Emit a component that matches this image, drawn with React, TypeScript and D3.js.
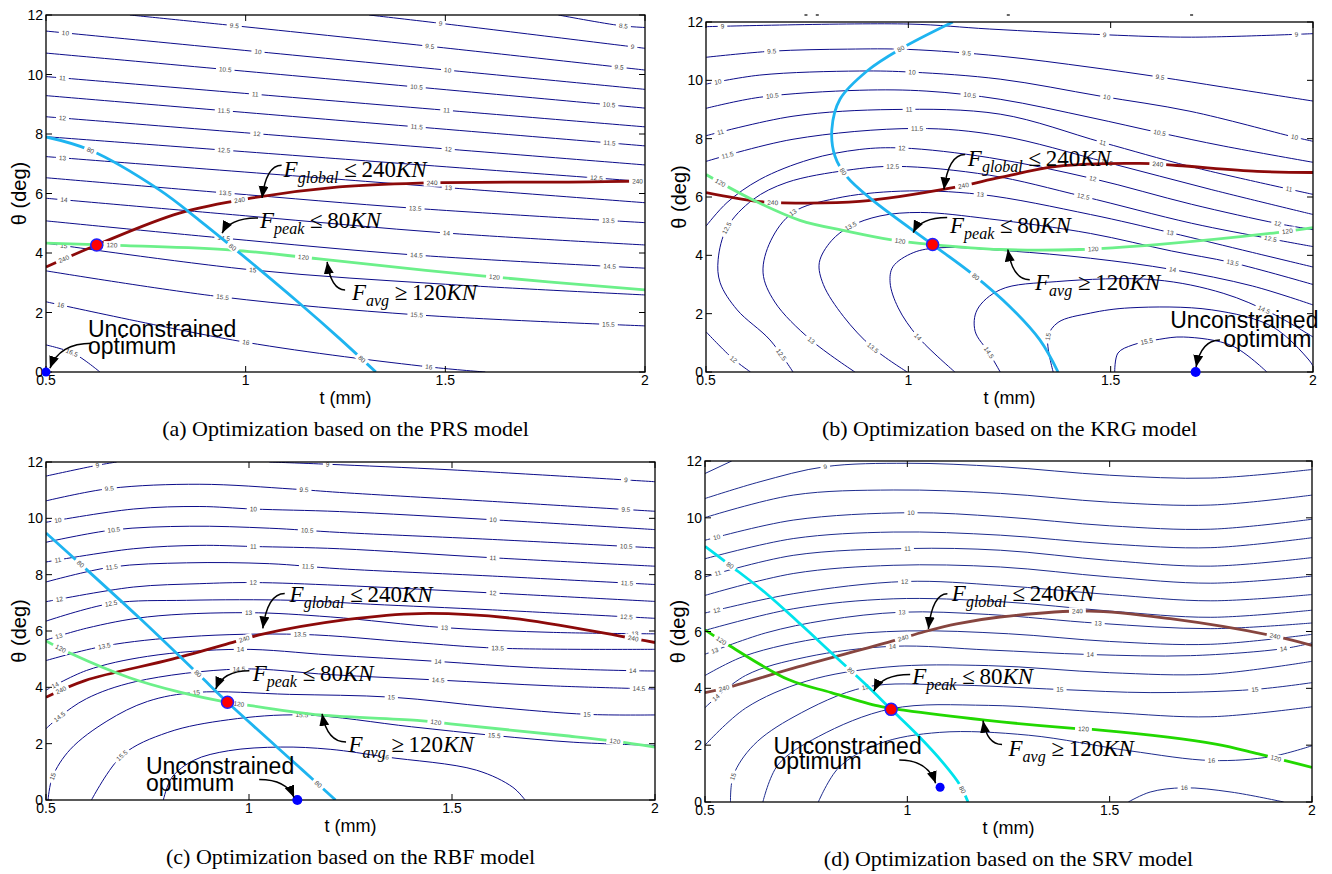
import React, { useEffect, useRef } from "react";
import * as d3 from "d3";

const SERIF = '"Liberation Serif", "Times New Roman", Times, serif';
const SANS = '"Liberation Sans", Arial, Helvetica, sans-serif';

const xTicks = [0.5, 1, 1.5, 2];
const xTickLabels = ["0.5", "1", "1.5", "2"];
const yTicks = [0, 2, 4, 6, 8, 10, 12];
const xDomain = [0.5, 2];
const yDomain = [0, 12];
const xLabel = "t (mm)";
const yLabel = "θ (deg)";
const captions = [
  "(a) Optimization based on the PRS model",
  "(b) Optimization based on the KRG model",
  "(c) Optimization based on the RBF model",
  "(d) Optimization based on the SRV model",
];

// ---------- (a) PRS ----------
const prsContours = [
  { level: "8.5", pts: [[1.783, 12], [1.94, 11.64], [2, 11.58]], labels: [[1.945, 11.63]] },
  { level: "9", pts: [[1.309, 12], [1.488, 11.72], [2, 10.88]], labels: [[1.488, 11.72], [1.97, 10.92]] },
  { level: "9.5", pts: [[0.71, 12], [0.972, 11.64], [1.46, 10.95], [2, 10.15]], labels: [[0.972, 11.64], [1.46, 10.95], [1.937, 10.25]] },
  { level: "10", pts: [[0.5, 11.46], [1.25, 10.48], [2, 9.5]], labels: [[0.548, 11.4], [1.03, 10.76], [1.506, 10.18]] },
  { level: "10.5", pts: [[0.5, 10.72], [1.25, 9.8], [2, 8.87]], labels: [[0.948, 10.16], [1.428, 9.6], [1.91, 9.0]] },
  { level: "11", pts: [[0.5, 9.93], [1.25, 9.08], [2, 8.24]], labels: [[0.543, 9.9], [1.024, 9.34], [1.504, 8.8]] },
  { level: "11.5", pts: [[0.5, 9.29], [1.25, 8.44], [2, 7.6]], labels: [[0.946, 8.79], [1.43, 8.25], [1.91, 7.7]] },
  { level: "12", pts: [[0.5, 8.58], [1.25, 7.77], [2, 6.96]], labels: [[0.543, 8.54], [1.026, 7.99], [1.506, 7.44]] },
  { level: "12.5", pts: [[0.5, 7.91], [1.25, 7.15], [2, 6.4]], labels: [[0.946, 7.45], [1.88, 6.47]] },
  { level: "13", pts: [[0.5, 7.24], [1.25, 6.46], [2, 5.69]], labels: [[0.543, 7.19], [1.506, 6.2]] },
  { level: "13.5", pts: [[0.5, 6.53], [0.948, 6.02], [1.426, 5.5], [2, 5.02]], labels: [[0.948, 6.0], [1.426, 5.5], [1.91, 5.07]] },
  { level: "14", pts: [[0.5, 5.84], [1.0, 5.25], [1.503, 4.67], [2, 4.27]], labels: [[0.543, 5.78], [1.503, 4.67]] },
  { level: "14.5", pts: [[0.5, 5.08], [0.944, 4.5], [1.426, 3.93], [2, 3.49]], labels: [[0.944, 4.5], [1.426, 3.93], [1.91, 3.55]] },
  { level: "15", pts: [[0.5, 4.33], [1.017, 3.43], [1.5, 2.95], [2, 2.59]], labels: [[0.543, 4.25], [1.017, 3.43]] },
  { level: "15.5", pts: [[0.5, 3.4], [0.942, 2.52], [1.43, 1.92], [2, 1.55]], labels: [[0.942, 2.52], [1.43, 1.92], [1.91, 1.6]] },
  { level: "16", pts: [[0.5, 2.36], [1.0, 1.0], [1.46, 0.17], [1.6, 0]], labels: [[0.535, 2.25], [1.0, 1.0], [1.46, 0.17]] },
  { level: "16.5", pts: [[0.5, 0.91], [0.57, 0.62], [0.635, 0]], labels: [[0.565, 0.64]] },
];
const prsPeak = [[0.5, 7.9], [0.61, 7.46], [0.784, 6.12], [0.884, 5.1], [0.967, 4.2], [1.134, 2.32], [1.234, 1.14], [1.326, 0]];
const prsPeakLabels = [[0.61, 7.46], [0.967, 4.2], [1.29, 0.45]];
const prsAvg = [[0.5, 4.33], [0.7, 4.25], [0.967, 4.1], [1.184, 3.8], [1.591, 3.23], [2, 2.76]];
const prsAvgLabels = [[0.665, 4.26], [1.144, 3.84], [1.624, 3.2]];
const prsGlobal = [[0.5, 3.53], [0.627, 4.27], [0.834, 5.34], [1.017, 5.85], [1.234, 6.22], [1.434, 6.35], [1.865, 6.39], [2, 6.42]];
const prsGlobalLabels = [[0.543, 3.8], [0.986, 5.78], [1.466, 6.35], [1.98, 6.41]];
const prsBest = [0.627, 4.27];
const prsFree = [0.5, 0];
const prsNotes = [
  { kind: "global", at: [1.095, 6.55], from: [1.09, 6.95], tip: [1.041, 5.85] },
  { kind: "peak", at: [1.036, 4.84], from: [1.031, 5.18], tip: [0.941, 4.67] },
  { kind: "avg", at: [1.266, 2.42], from: [1.249, 2.76], tip: [1.204, 3.7] },
];
const prsOptNote = { line1: [0.605, 1.18], line2: [0.605, 0.6], from: [0.615, 0.97], tip: [0.51, 0.13] };

// ---------- (b) KRG ----------
const krgContours = [
  { level: "9", pts: [[0.5, 11.84], [1.0, 11.93], [1.2, 11.76], [1.49, 11.56], [1.7, 11.48], [2, 11.6]], labels: [[0.54, 11.86], [1.486, 11.56], [1.96, 11.58]] },
  { level: "9.5", pts: [[0.5, 10.79], [0.663, 11.0], [0.85, 11.07], [1.0, 11.06], [1.227, 10.83], [1.449, 10.45], [1.622, 10.11], [1.778, 9.77], [2, 9.29]], labels: [[0.663, 11.0], [1.145, 10.9], [1.622, 10.11]] },
  { level: "10", pts: [[0.5, 9.87], [0.633, 10.18], [0.88, 10.32], [1.01, 10.28], [1.227, 10.04], [1.474, 9.46], [1.696, 8.94], [1.955, 8.05], [2, 7.91]], labels: [[0.53, 9.95], [1.01, 10.28], [1.49, 9.43], [1.955, 8.05]] },
  { level: "10.5", pts: [[0.5, 9.04], [0.633, 9.42], [0.88, 9.66], [1.046, 9.63], [1.227, 9.35], [1.449, 8.73], [1.622, 8.2], [1.778, 7.75], [2, 7.19]], labels: [[0.663, 9.5], [1.15, 9.45], [1.622, 8.2]] },
  { level: "11", pts: [[0.5, 8.1], [0.715, 8.77], [0.962, 9.0], [1.227, 8.84], [1.48, 7.87], [1.696, 7.05], [2, 6.09]], labels: [[0.535, 8.3], [1.0, 8.98], [1.48, 7.87], [1.94, 6.28]] },
  { level: "11.5", pts: [[0.5, 7.22], [0.715, 7.98], [1.02, 8.35], [1.227, 8.1], [1.49, 7.19], [1.75, 6.25], [2, 5.4]], labels: [[0.554, 7.45], [1.02, 8.35], [1.49, 7.19]] },
  { level: "12", pts: [[0.5, 5.0], [0.552, 5.81], [0.633, 6.6], [0.757, 7.29], [0.88, 7.63], [0.985, 7.68], [1.2, 7.35], [1.456, 6.63], [1.7, 5.75], [1.913, 5.09], [2, 4.88]], labels: [[0.985, 7.68], [1.456, 6.63], [1.913, 5.09]] },
  { level: "12", pts: [[0.5, 1.38], [0.567, 0.45], [0.61, 0]], labels: [[0.567, 0.45]] },
  { level: "12.5", pts: [[0.715, 0], [0.658, 1.1], [0.577, 2.13], [0.535, 3.06], [0.53, 3.85], [0.552, 4.95], [0.616, 5.91], [0.7, 6.5], [0.85, 6.92], [0.97, 7.05], [1.2, 6.75], [1.432, 6.02], [1.7, 5.1], [1.894, 4.57], [2, 4.3]], labels: [[0.552, 4.95], [0.96, 7.05], [1.432, 6.02], [1.894, 4.57], [0.683, 0.58]] },
  { level: "13", pts: [[0.868, 0], [0.759, 1.1], [0.67, 2.4], [0.641, 3.4], [0.66, 4.5], [0.715, 5.47], [0.82, 5.95], [0.98, 6.2], [1.177, 6.09], [1.45, 5.4], [1.647, 4.78], [1.85, 4.1], [2, 3.6]], labels: [[0.759, 1.1], [0.715, 5.47], [1.177, 6.09], [1.647, 4.78]] },
  { level: "13.5", pts: [[0.997, 0], [0.913, 0.82], [0.84, 1.9], [0.79, 3.0], [0.78, 3.75], [0.81, 4.5], [0.856, 4.99], [0.93, 5.35], [1.03, 5.47], [1.2, 5.25], [1.45, 4.75], [1.65, 4.15], [1.8, 3.75], [2, 3.0]], labels: [[0.913, 0.82], [0.856, 4.99], [1.8, 3.75]] },
  { level: "14", pts: [[1.115, 0], [1.024, 1.2], [0.975, 2.2], [0.955, 3.06], [0.962, 3.61], [1.012, 4.09], [1.078, 4.26], [1.25, 4.15], [1.45, 3.9], [1.654, 3.51], [1.85, 2.95], [2, 2.3]], labels: [[1.024, 1.2], [1.654, 3.51]] },
  { level: "14.5", pts: [[1.227, 0], [1.2, 0.65], [1.165, 1.4], [1.17, 2.13], [1.227, 2.82], [1.367, 3.1], [1.61, 3.16], [1.778, 2.7], [1.9, 2.0], [2, 1.2]], labels: [[1.2, 0.65], [1.88, 2.15]] },
  { level: "15", pts: [[1.358, 0], [1.345, 1.2], [1.37, 1.7], [1.45, 2.02], [1.548, 2.2], [1.75, 2.13], [1.9, 1.55], [1.99, 0.41], [2, 0.2]], labels: [[1.345, 1.2]] },
  { level: "15.5", pts: [[1.51, 0], [1.518, 0.65], [1.555, 0.93], [1.62, 1.12], [1.68, 1.2], [1.8, 0.9], [1.886, 0]], labels: [[1.59, 1.1]] },
];
const krgPeak = [[1.11, 12], [0.98, 11.07], [0.898, 10.32], [0.831, 9.35], [0.811, 8.32], [0.819, 7.39], [0.848, 6.7], [0.91, 5.91], [1.06, 4.37], [1.16, 3.34], [1.251, 2.24], [1.325, 1.1], [1.37, 0]];
const krgPeakLabels = [[0.98, 11.07], [0.843, 6.88], [1.165, 3.27]];
const krgAvg = [[0.5, 6.77], [0.616, 5.9], [0.732, 5.2], [0.848, 4.83], [0.955, 4.54], [1.06, 4.37], [1.227, 4.2], [1.424, 4.2], [1.614, 4.37], [1.911, 4.78], [2, 4.95]];
const krgAvgLabels = [[0.535, 6.5], [0.98, 4.48], [1.457, 4.21], [1.938, 4.83]];
const krgGlobal = [[0.5, 6.15], [0.626, 5.85], [0.69, 5.8], [0.88, 5.85], [1.11, 6.32], [1.227, 6.67], [1.367, 7.05], [1.572, 7.15], [1.664, 7.08], [1.862, 6.88], [2, 6.84]];
const krgGlobalLabels = [[0.663, 5.82], [1.135, 6.38], [1.617, 7.12]];
const krgBest = [1.06, 4.37];
const krgFree = [1.71, 0];
const krgNotes = [
  { kind: "global", at: [1.147, 7.05], from: [1.14, 7.46], tip: [1.088, 6.26] },
  { kind: "peak", at: [1.103, 4.78], from: [1.096, 5.3], tip: [1.012, 4.78] },
  { kind: "avg", at: [1.313, 2.82], from: [1.3, 3.16], tip: [1.246, 4.2] },
];
const krgOptNote = { line1: [1.647, 1.51], line2: [1.778, 0.86], from: [1.77, 1.1], tip: [1.711, 0.17] };
// small marks above panel (b), in t units at the top edge
const krgTopMarks = [0.747, 0.775, 1.247, 1.7];

// ---------- (c) RBF ----------
const rbfContours = [
  { level: "9", pts: [[0.5, 11.5], [0.625, 11.88], [0.674, 12]], labels: [[0.625, 11.88]] },
  { level: "9", pts: [[1.05, 12], [1.194, 11.92], [1.5, 11.72], [2, 11.3]], labels: [[1.194, 11.92], [1.93, 11.36]] },
  { level: "9.5", pts: [[0.5, 10.62], [0.657, 11.06], [0.879, 11.21], [1.108, 11.04], [1.223, 10.92], [1.6, 10.6], [2, 10.25]], labels: [[0.657, 11.06], [1.137, 10.98], [1.93, 10.3]] },
  { level: "10", pts: [[0.5, 9.86], [0.715, 10.33], [0.879, 10.42], [1.01, 10.33], [1.223, 10.24], [1.6, 9.95], [2, 9.6]], labels: [[0.53, 9.95], [1.01, 10.33], [1.6, 9.95]] },
  { level: "10.5", pts: [[0.5, 9.15], [0.666, 9.59], [0.854, 9.72], [1.05, 9.65], [1.223, 9.5], [1.6, 9.25], [2, 8.95]], labels: [[0.666, 9.59], [1.145, 9.57], [1.93, 9.0]] },
  { level: "11", pts: [[0.5, 8.45], [0.715, 8.92], [0.879, 9.04], [1.01, 9.0], [1.223, 8.92], [1.6, 8.6], [2, 8.3]], labels: [[0.53, 8.55], [1.01, 9.0], [1.6, 8.6]] },
  { level: "11.5", pts: [[0.5, 7.74], [0.661, 8.27], [0.846, 8.42], [1.05, 8.39], [1.223, 8.21], [1.6, 7.95], [2, 7.65]], labels: [[0.661, 8.27], [1.145, 8.3], [1.93, 7.7]] },
  { level: "12", pts: [[0.5, 7.04], [0.715, 7.56], [0.879, 7.68], [1.01, 7.72], [1.223, 7.62], [1.6, 7.35], [2, 7.05]], labels: [[0.53, 7.2], [1.01, 7.72], [1.6, 7.35]] },
  { level: "12.5", pts: [[0.5, 6.35], [0.661, 6.98], [0.846, 7.09], [1.108, 7.09], [1.3, 6.95], [1.6, 6.75], [2, 6.45]], labels: [[0.661, 6.98], [1.93, 6.5]] },
  { level: "13", pts: [[0.5, 5.68], [0.6, 6.1], [0.75, 6.5], [0.998, 6.65], [1.2, 6.5], [1.48, 6.12], [1.75, 5.95], [2, 5.9]], labels: [[0.53, 5.85], [0.998, 6.65], [1.48, 6.12], [1.95, 5.88]] },
  { level: "13.5", pts: [[0.5, 4.95], [0.645, 5.47], [0.85, 5.8], [1.127, 5.88], [1.4, 5.6], [1.614, 5.39], [2, 5.35]], labels: [[0.645, 5.47], [1.127, 5.88], [1.614, 5.39]] },
  { level: "14", pts: [[0.5, 3.9], [0.6, 4.6], [0.75, 5.1], [0.977, 5.35], [1.2, 5.15], [1.464, 4.92], [1.7, 4.7], [1.946, 4.59], [2, 4.58]], labels: [[0.521, 4.12], [0.977, 5.35], [1.464, 4.92], [1.946, 4.59]] },
  { level: "14.5", pts: [[0.5, 2.53], [0.532, 2.94], [0.6, 3.6], [0.72, 4.2], [0.977, 4.65], [1.2, 4.45], [1.464, 4.26], [1.75, 4.05], [2, 3.94]], labels: [[0.532, 2.94], [0.977, 4.65], [1.464, 4.26], [1.96, 3.95]] },
  { level: "15", pts: [[0.505, 0], [0.516, 0.82], [0.56, 1.8], [0.65, 2.8], [0.75, 3.5], [0.87, 3.82], [1.1, 3.75], [1.352, 3.65], [1.6, 3.3], [1.834, 3.04], [2, 3.02]], labels: [[0.516, 0.82], [0.87, 3.82], [1.352, 3.65], [1.834, 3.04]] },
  { level: "15.5", pts: [[0.612, 0], [0.688, 1.59], [0.8, 2.4], [0.95, 2.85], [1.132, 3.02], [1.4, 2.6], [1.604, 2.29], [1.8, 2.05], [2, 1.94]], labels: [[0.688, 1.59], [1.132, 3.02], [1.604, 2.29]] },
  { level: "16", pts: [[0.789, 0], [0.81, 0.8], [0.864, 1.41], [0.95, 1.75], [1.078, 1.88], [1.2, 1.8], [1.336, 1.53], [1.56, 1.06], [1.65, 0.45], [1.68, 0]], labels: [[1.336, 1.53]] },
];
const rbfPeak = [[0.5, 9.48], [0.584, 8.39], [0.731, 6.45], [0.875, 4.47], [0.947, 3.47], [1.132, 1.06], [1.213, 0]];
const rbfPeakLabels = [[0.584, 8.39], [0.875, 4.47], [1.17, 0.59]];
const rbfAvg = [[0.5, 5.65], [0.564, 5.18], [0.704, 4.35], [0.832, 3.82], [0.947, 3.47], [1.004, 3.35], [1.175, 3.02], [1.421, 2.82], [1.496, 2.7], [1.775, 2.29], [1.9, 2.09], [2, 1.88]];
const rbfAvgLabels = [[0.538, 5.4], [0.977, 3.42], [1.459, 2.76], [1.9, 2.09]];
const rbfGlobal = [[0.5, 3.65], [0.596, 4.24], [0.811, 5.0], [0.966, 5.62], [1.025, 5.86], [1.239, 6.4], [1.42, 6.62], [1.65, 6.45], [1.914, 5.82], [2, 5.59]];
const rbfGlobalLabels = [[0.538, 3.87], [0.988, 5.71], [1.946, 5.72]];
const rbfBest = [0.947, 3.47];
const rbfFree = [1.119, 0];
const rbfNotes = [
  { kind: "global", at: [1.1, 7.04], from: [1.088, 7.33], tip: [1.034, 6.09] },
  { kind: "peak", at: [1.009, 4.24], from: [1.001, 4.59], tip: [0.918, 3.94] },
  { kind: "avg", at: [1.245, 1.71], from: [1.239, 2.06], tip: [1.18, 3.06] },
];
const rbfOptNote = { line1: [0.746, 0.94], line2: [0.746, 0.33], from: [1.025, 0.73], tip: [1.111, 0.09] };

// ---------- (d) SRV ----------
const srvContours = [
  { level: "8.5", pts: [[0.5, 11.56], [0.566, 12]], labels: [] },
  { level: "9", pts: [[0.5, 10.68], [0.636, 11.27], [0.797, 11.8], [1.0, 11.92], [1.23, 11.8], [1.5, 11.5], [1.75, 11.4], [2, 11.7]], labels: [[0.797, 11.8]] },
  { level: "9.5", pts: [[0.5, 10.01], [0.718, 10.8], [0.965, 10.98], [1.23, 10.86], [1.5, 10.55], [1.75, 10.45], [2, 10.8]], labels: [] },
  { level: "10", pts: [[0.5, 9.21], [0.718, 9.92], [1.007, 10.18], [1.23, 10.04], [1.5, 9.72], [1.75, 9.6], [2, 9.95]], labels: [[0.53, 9.3], [1.007, 10.18]] },
  { level: "10.5", pts: [[0.5, 8.56], [0.718, 9.27], [0.965, 9.5], [1.23, 9.39], [1.5, 9.08], [1.75, 8.95], [2, 9.3]], labels: [] },
  { level: "11", pts: [[0.5, 7.92], [0.718, 8.68], [1.002, 8.92], [1.23, 8.86], [1.5, 8.5], [1.75, 8.3], [2, 8.6]], labels: [[0.53, 8.06], [1.002, 8.92]] },
  { level: "11.5", pts: [[0.5, 7.27], [0.718, 8.04], [0.965, 8.33], [1.23, 8.27], [1.5, 7.92], [1.75, 7.7], [2, 7.95]], labels: [] },
  { level: "12", pts: [[0.5, 6.65], [0.718, 7.33], [0.994, 7.76], [1.23, 7.62], [1.5, 7.3], [1.75, 7.08], [2, 7.3]], labels: [[0.53, 6.74], [0.994, 7.76]] },
  { level: "12.5", pts: [[0.5, 6.04], [0.718, 6.8], [0.965, 7.15], [1.23, 7.05], [1.5, 6.72], [1.75, 6.5], [2, 6.75]], labels: [] },
  { level: "13", pts: [[0.5, 5.2], [0.65, 5.95], [0.8, 6.4], [0.986, 6.68], [1.2, 6.6], [1.472, 6.29], [1.75, 6.1], [2, 6.3]], labels: [[0.526, 5.33], [0.986, 6.68], [1.472, 6.29]] },
  { level: "13.5", pts: [[0.5, 4.45], [0.6, 5.15], [0.8, 5.8], [1.0, 6.02], [1.25, 5.92], [1.5, 5.65], [1.75, 5.55], [2, 5.9]], labels: [] },
  { level: "14", pts: [[0.5, 3.32], [0.6, 4.45], [0.75, 5.1], [0.965, 5.48], [1.2, 5.35], [1.451, 5.19], [1.7, 5.15], [1.931, 5.4], [2, 5.6]], labels: [[0.526, 3.67], [0.965, 5.48], [1.451, 5.19], [1.931, 5.4]] },
  { level: "14.5", pts: [[0.5, 2.0], [0.6, 3.3], [0.75, 4.25], [0.95, 4.75], [1.2, 4.8], [1.5, 4.55], [1.75, 4.5], [2, 4.95]], labels: [] },
  { level: "15", pts: [[0.563, 0], [0.57, 0.93], [0.62, 2.0], [0.72, 3.0], [0.896, 4.04], [1.1, 4.12], [1.377, 3.96], [1.6, 3.85], [1.857, 3.96], [2, 4.2]], labels: [[0.566, 0.93], [0.896, 4.04], [1.377, 3.96], [1.857, 3.96]] },
  { level: "15.5", pts: [[0.643, 0], [0.68, 1.3], [0.78, 2.3], [0.96, 3.28], [1.2, 3.4], [1.5, 3.15], [1.75, 3.0], [2, 3.35]], labels: [] },
  { level: "16", pts: [[0.78, 0], [0.83, 1.2], [0.93, 2.05], [1.08, 2.45], [1.3, 2.35], [1.55, 1.8], [1.752, 1.46], [1.9, 1.6], [2, 1.98]], labels: [[1.752, 1.46]] },
  { level: "16", pts: [[1.546, 0], [1.6, 0.35], [1.683, 0.5], [1.8, 0.35], [1.93, 0]], labels: [[1.683, 0.5]] },
];
const srvPeak = [[0.5, 9.0], [0.562, 8.33], [0.652, 7.33], [0.735, 6.27], [0.82, 5.15], [0.9, 4.1], [0.96, 3.26], [1.023, 2.39], [1.09, 1.35], [1.13, 0.6], [1.15, 0]];
const srvPeakLabels = [[0.562, 8.33], [0.86, 4.6], [1.139, 0.45]];
const srvAvg = [[0.5, 6.06], [0.563, 5.48], [0.706, 4.31], [0.812, 3.85], [0.928, 3.38], [0.991, 3.23], [1.192, 2.88], [1.403, 2.6], [1.477, 2.53], [1.762, 2.04], [1.868, 1.69], [2, 1.22]];
const srvAvgLabels = [[0.542, 5.71], [1.435, 2.56], [1.91, 1.57]];
const srvGlobal = [[0.5, 3.85], [0.569, 4.08], [0.706, 4.66], [0.96, 5.65], [1.044, 6.0], [1.122, 6.27], [1.229, 6.51], [1.45, 6.72], [1.65, 6.45], [1.91, 5.83], [2, 5.51]];
const srvGlobalLabels = [[0.548, 3.96], [0.991, 5.76], [1.42, 6.7], [1.91, 5.83]];
const srvBest = [0.96, 3.26];
const srvFree = [1.081, 0.52];
const srvNotes = [
  { kind: "global", at: [1.11, 7.09], from: [1.099, 7.33], tip: [1.052, 6.09] },
  { kind: "peak", at: [1.012, 4.14], from: [1.007, 4.49], tip: [0.917, 3.9] },
  { kind: "avg", at: [1.25, 1.63], from: [1.234, 2.02], tip: [1.187, 2.86] },
];
const srvOptNote = { line1: [0.669, 1.69], line2: [0.669, 1.17], from: [0.98, 1.48], tip: [1.07, 0.66] };

// ---------- layout & styles ----------
const panelBoxes = [
  { x0: 46, x1: 645, y0: 15, y1: 372 },
  { x0: 706, x1: 1313, y0: 22, y1: 372 },
  { x0: 46, x1: 655, y0: 462, y1: 800 },
  { x0: 705, x1: 1312, y0: 461, y1: 802 },
];
const styleABC = { contour: "#0c0c8a", cyan: "#1eb4f0", green: "#6cf08a", red: "#8c0a0a" };
const styleD = { contour: "#1e2c8e", cyan: "#00e3ec", green: "#22d800", red: "#87453f" };

const panels = [
  { box: panelBoxes[0], style: styleABC, contours: prsContours, peak: prsPeak, peakLabels: prsPeakLabels, avg: prsAvg, avgLabels: prsAvgLabels, glob: prsGlobal, globLabels: prsGlobalLabels, best: prsBest, free: prsFree, freeR: 4.5, notes: prsNotes, opt: prsOptNote, caption: captions[0], topMarks: [] },
  { box: panelBoxes[1], style: styleABC, contours: krgContours, peak: krgPeak, peakLabels: krgPeakLabels, avg: krgAvg, avgLabels: krgAvgLabels, glob: krgGlobal, globLabels: krgGlobalLabels, best: krgBest, free: krgFree, freeR: 5, notes: krgNotes, opt: krgOptNote, caption: captions[1], topMarks: krgTopMarks },
  { box: panelBoxes[2], style: styleABC, contours: rbfContours, peak: rbfPeak, peakLabels: rbfPeakLabels, avg: rbfAvg, avgLabels: rbfAvgLabels, glob: rbfGlobal, globLabels: rbfGlobalLabels, best: rbfBest, free: rbfFree, freeR: 5, notes: rbfNotes, opt: rbfOptNote, caption: captions[2], topMarks: [] },
  { box: panelBoxes[3], style: styleD, contours: srvContours, peak: srvPeak, peakLabels: srvPeakLabels, avg: srvAvg, avgLabels: srvAvgLabels, glob: srvGlobal, globLabels: srvGlobalLabels, best: srvBest, free: srvFree, freeR: 4.5, notes: srvNotes, opt: srvOptNote, caption: captions[3], topMarks: [] },
];

const noteText = {
  global: { sub: "global", op: "≤", num: "240" },
  peak: { sub: "peak", op: "≤", num: "80" },
  avg: { sub: "avg", op: "≥", num: "120" },
};

function samplePath(node) {
  const total = node.getTotalLength();
  const pts = [];
  for (let l = 0; l <= total; l += 1.5) {
    const p = node.getPointAtLength(l);
    pts.push([p.x, p.y]);
  }
  return pts;
}

function placeLabel(layer, samples, tx, ty, text) {
  if (!samples.length) return;
  let bi = 0;
  let bd = Infinity;
  samples.forEach((p, i) => {
    const d = (p[0] - tx) ** 2 + (p[1] - ty) ** 2;
    if (d < bd) { bd = d; bi = i; }
  });
  const a = samples[Math.max(0, bi - 3)];
  const b = samples[Math.min(samples.length - 1, bi + 3)];
  let ang = (Math.atan2(b[1] - a[1], b[0] - a[0]) * 180) / Math.PI;
  if (ang > 90) ang -= 180;
  if (ang < -90) ang += 180;
  const [px, py] = samples[bi];
  const g = layer.append("g").attr("transform", `translate(${px},${py}) rotate(${ang})`);
  const rect = g.append("rect").attr("fill", "#fff");
  const fs = 6.5;
  const t = g.append("text")
    .attr("text-anchor", "middle")
    .attr("dy", "0.35em")
    .attr("font-size", fs)
    .attr("font-family", SANS)
    .attr("fill", "#444")
    .text(text);
  const w = t.node().getComputedTextLength();
  rect.attr("x", -w / 2 - 3).attr("y", -fs * 0.6).attr("width", w + 6).attr("height", fs * 1.2);
}

function arrowPath(s, e) {
  const [sx, sy] = s;
  const [ex, ey] = e;
  const c1 = [sx + (ex - sx) * 0.6, sy];
  const c2 = [ex + (sx - ex) * 0.12, sy + (ey - sy) * 0.45];
  return `M${sx},${sy} C${c1[0]},${c1[1]} ${c2[0]},${c2[1]} ${ex},${ey}`;
}

function drawPanel(svg, defs, P, i) {
  const b = P.box;
  const x = d3.scaleLinear().domain(xDomain).range([b.x0, b.x1]);
  const y = d3.scaleLinear().domain(yDomain).range([b.y1, b.y0]);
  const clipId = `clip-${i}`;
  defs.append("clipPath").attr("id", clipId).append("rect")
    .attr("x", b.x0).attr("y", b.y0).attr("width", b.x1 - b.x0).attr("height", b.y1 - b.y0);

  const g = svg.append("g");
  const plot = g.append("g").attr("clip-path", `url(#${clipId})`);
  const line = d3.line().x((d) => x(d[0])).y((d) => y(d[1])).curve(d3.curveCatmullRom.alpha(0.5));

  // contour lines
  const nodes = P.contours.map((c) =>
    plot.append("path").attr("d", line(c.pts)).attr("fill", "none")
      .attr("stroke", P.style.contour).attr("stroke-width", 1).node()
  );
  const labelLayer = plot.append("g");
  P.contours.forEach((c, k) => {
    if (!c.labels.length) return;
    const s = samplePath(nodes[k]);
    c.labels.forEach((l) => placeLabel(labelLayer, s, x(l[0]), y(l[1]), c.level));
  });

  // constraint curves
  const cons = [
    { pts: P.glob, labels: P.globLabels, color: P.style.red, text: "240" },
    { pts: P.avg, labels: P.avgLabels, color: P.style.green, text: "120" },
    { pts: P.peak, labels: P.peakLabels, color: P.style.cyan, text: "80" },
  ];
  cons.forEach((c) => {
    const n = plot.append("path").attr("d", line(c.pts)).attr("fill", "none")
      .attr("stroke", c.color).attr("stroke-width", 2.8).attr("stroke-linecap", "butt").node();
    const s = samplePath(n);
    const lay = plot.append("g");
    c.labels.forEach((l) => placeLabel(lay, s, x(l[0]), y(l[1]), c.text));
  });

  // axes box & ticks
  g.append("rect").attr("x", b.x0).attr("y", b.y0).attr("width", b.x1 - b.x0).attr("height", b.y1 - b.y0)
    .attr("fill", "none").attr("stroke", "#000").attr("stroke-width", 1.3);
  const tl = 6;
  xTicks.forEach((t, k) => {
    const px = x(t);
    g.append("line").attr("x1", px).attr("x2", px).attr("y1", b.y1).attr("y2", b.y1 - tl).attr("stroke", "#000").attr("stroke-width", 1);
    g.append("line").attr("x1", px).attr("x2", px).attr("y1", b.y0).attr("y2", b.y0 + tl).attr("stroke", "#000").attr("stroke-width", 1);
    g.append("text").attr("x", px).attr("y", b.y1 + 13).attr("text-anchor", "middle")
      .attr("font-family", SANS).attr("font-size", 14).attr("fill", "#000").text(xTickLabels[k]);
  });
  yTicks.forEach((t) => {
    const py = y(t);
    g.append("line").attr("x1", b.x0).attr("x2", b.x0 + tl).attr("y1", py).attr("y2", py).attr("stroke", "#000").attr("stroke-width", 1);
    g.append("line").attr("x1", b.x1).attr("x2", b.x1 - tl).attr("y1", py).attr("y2", py).attr("stroke", "#000").attr("stroke-width", 1);
    g.append("text").attr("x", b.x0 - 3).attr("y", py + 5).attr("text-anchor", "end")
      .attr("font-family", SANS).attr("font-size", 14).attr("fill", "#000").text(String(t));
  });
  P.topMarks.forEach((t) => {
    g.append("line").attr("x1", x(t) - 1.5).attr("x2", x(t) + 1.5).attr("y1", b.y0 - 7).attr("y2", b.y0 - 7)
      .attr("stroke", "#000").attr("stroke-width", 1.2);
  });
  const cx = (b.x0 + b.x1) / 2;
  const cy = (b.y0 + b.y1) / 2;
  g.append("text").attr("x", cx).attr("y", b.y1 + 32).attr("text-anchor", "middle")
    .attr("font-family", SANS).attr("font-size", 18).attr("fill", "#000").text(xLabel);
  g.append("text").attr("transform", `translate(${b.x0 - 20},${cy}) rotate(-90)`).attr("text-anchor", "middle")
    .attr("font-family", SANS).attr("font-size", 20).attr("fill", "#000").text(yLabel);
  g.append("text").attr("x", cx).attr("y", b.y1 + 64).attr("text-anchor", "middle")
    .attr("font-family", SERIF).attr("font-size", 22).attr("fill", "#000").text(P.caption);

  // points
  g.append("circle").attr("cx", x(P.best[0])).attr("cy", y(P.best[1])).attr("r", 6)
    .attr("fill", "#ff0000").attr("stroke", "#2020ff").attr("stroke-width", 1.5);
  g.append("circle").attr("cx", x(P.free[0])).attr("cy", y(P.free[1])).attr("r", P.freeR)
    .attr("fill", "#0000ff");

  // annotations
  P.notes.forEach((n) => {
    const nt = noteText[n.kind];
    const t = g.append("text").attr("x", x(n.at[0])).attr("y", y(n.at[1]))
      .attr("font-family", SERIF).attr("font-size", 23).attr("fill", "#000");
    t.append("tspan").attr("font-style", "italic").text("F");
    t.append("tspan").attr("font-style", "italic").attr("font-size", 16).attr("dy", 6).text(nt.sub);
    t.append("tspan").attr("dy", -6).text(` ${nt.op}\u2009${nt.num}`);
    t.append("tspan").attr("font-style", "italic").text("KN");
    g.append("path").attr("d", arrowPath([x(n.from[0]), y(n.from[1])], [x(n.tip[0]), y(n.tip[1])]))
      .attr("fill", "none").attr("stroke", "#000").attr("stroke-width", 1.5).attr("marker-end", "url(#arrowhead)");
  });
  const o = P.opt;
  g.append("text").attr("x", x(o.line1[0])).attr("y", y(o.line1[1])).attr("font-family", SANS)
    .attr("font-size", 23).attr("fill", "#000").text("Unconstrained");
  g.append("text").attr("x", x(o.line2[0])).attr("y", y(o.line2[1])).attr("font-family", SANS)
    .attr("font-size", 23).attr("fill", "#000").text("optimum");
  g.append("path").attr("d", arrowPath([x(o.from[0]), y(o.from[1])], [x(o.tip[0]), y(o.tip[1])]))
    .attr("fill", "none").attr("stroke", "#000").attr("stroke-width", 1.5).attr("marker-end", "url(#arrowhead)");
}

export default function App() {
  const ref = useRef(null);
  useEffect(() => {
    const svg = d3.select(ref.current);
    svg.selectAll("*").remove();
    const defs = svg.append("defs");
    defs.append("marker").attr("id", "arrowhead").attr("markerUnits", "userSpaceOnUse")
      .attr("markerWidth", 13).attr("markerHeight", 11).attr("refX", 12).attr("refY", 5)
      .attr("orient", "auto")
      .append("path").attr("d", "M0,0 L12,5 L0,10 Z").attr("fill", "#000");
    panels.forEach((p, i) => drawPanel(svg, defs, p, i));
  }, []);
  return (
    <svg
      ref={ref}
      width={1332}
      height={874}
      style={{ position: "absolute", left: 0, top: 0, background: "#fff" }}
    />
  );
}
